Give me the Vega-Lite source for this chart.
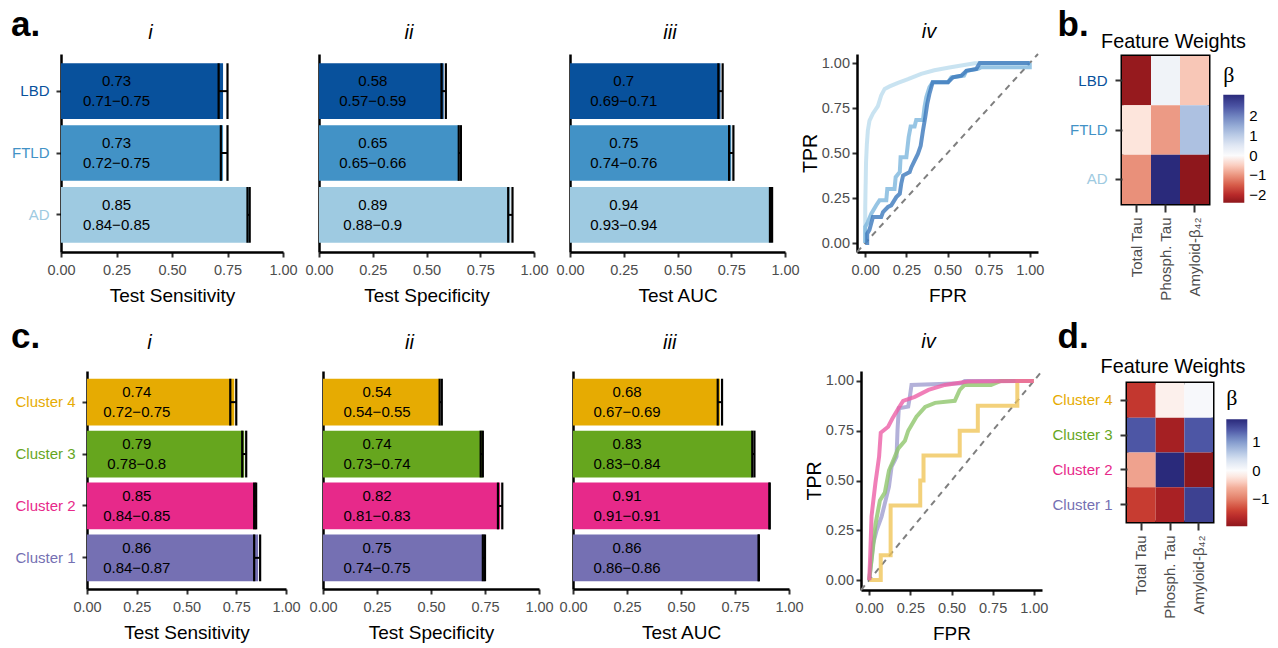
{
  "$schema": "https://vega.github.io/schema/vega-lite/v6.json",
  "background": "white",
  "padding": {"left": 10, "top": 8, "right": 5, "bottom": 1},
  "datasets": {
    "bars_a": [
      {"metric": "sens", "cat": "LBD", "mean": 0.73, "lo": 0.71, "hi": 0.75, "label": "0.73\n0.71−0.75"},
      {"metric": "sens", "cat": "FTLD", "mean": 0.73, "lo": 0.72, "hi": 0.75, "label": "0.73\n0.72−0.75"},
      {"metric": "sens", "cat": "AD", "mean": 0.85, "lo": 0.84, "hi": 0.85, "label": "0.85\n0.84−0.85"},
      {"metric": "spec", "cat": "LBD", "mean": 0.58, "lo": 0.57, "hi": 0.59, "label": "0.58\n0.57−0.59"},
      {"metric": "spec", "cat": "FTLD", "mean": 0.65, "lo": 0.65, "hi": 0.66, "label": "0.65\n0.65−0.66"},
      {"metric": "spec", "cat": "AD", "mean": 0.89, "lo": 0.88, "hi": 0.9, "label": "0.89\n0.88−0.9"},
      {"metric": "auc", "cat": "LBD", "mean": 0.7, "lo": 0.69, "hi": 0.71, "label": "0.7\n0.69−0.71"},
      {"metric": "auc", "cat": "FTLD", "mean": 0.75, "lo": 0.74, "hi": 0.76, "label": "0.75\n0.74−0.76"},
      {"metric": "auc", "cat": "AD", "mean": 0.94, "lo": 0.93, "hi": 0.94, "label": "0.94\n0.93−0.94"}
    ],
    "bars_c": [
      {"metric": "sens", "cat": "Cluster 4", "mean": 0.74, "lo": 0.72, "hi": 0.75, "label": "0.74\n0.72−0.75"},
      {"metric": "sens", "cat": "Cluster 3", "mean": 0.79, "lo": 0.78, "hi": 0.8, "label": "0.79\n0.78−0.8"},
      {"metric": "sens", "cat": "Cluster 2", "mean": 0.85, "lo": 0.84, "hi": 0.85, "label": "0.85\n0.84−0.85"},
      {"metric": "sens", "cat": "Cluster 1", "mean": 0.86, "lo": 0.84, "hi": 0.87, "label": "0.86\n0.84−0.87"},
      {"metric": "spec", "cat": "Cluster 4", "mean": 0.54, "lo": 0.54, "hi": 0.55, "label": "0.54\n0.54−0.55"},
      {"metric": "spec", "cat": "Cluster 3", "mean": 0.74, "lo": 0.73, "hi": 0.74, "label": "0.74\n0.73−0.74"},
      {"metric": "spec", "cat": "Cluster 2", "mean": 0.82, "lo": 0.81, "hi": 0.83, "label": "0.82\n0.81−0.83"},
      {"metric": "spec", "cat": "Cluster 1", "mean": 0.75, "lo": 0.74, "hi": 0.75, "label": "0.75\n0.74−0.75"},
      {"metric": "auc", "cat": "Cluster 4", "mean": 0.68, "lo": 0.67, "hi": 0.69, "label": "0.68\n0.67−0.69"},
      {"metric": "auc", "cat": "Cluster 3", "mean": 0.83, "lo": 0.83, "hi": 0.84, "label": "0.83\n0.83−0.84"},
      {"metric": "auc", "cat": "Cluster 2", "mean": 0.91, "lo": 0.91, "hi": 0.91, "label": "0.91\n0.91−0.91"},
      {"metric": "auc", "cat": "Cluster 1", "mean": 0.86, "lo": 0.86, "hi": 0.86, "label": "0.86\n0.86−0.86"}
    ],
    "roc_a": [
      {"grp": "AD", "fpr": 0, "tpr": 0}, {"grp": "AD", "fpr": 0, "tpr": 0.2}, {"grp": "AD", "fpr": 0.005, "tpr": 0.45}, {"grp": "AD", "fpr": 0.01, "tpr": 0.55}, {"grp": "AD", "fpr": 0.016, "tpr": 0.625}, {"grp": "AD", "fpr": 0.026, "tpr": 0.68}, {"grp": "AD", "fpr": 0.047, "tpr": 0.72}, {"grp": "AD", "fpr": 0.077, "tpr": 0.76}, {"grp": "AD", "fpr": 0.097, "tpr": 0.82}, {"grp": "AD", "fpr": 0.118, "tpr": 0.856}, {"grp": "AD", "fpr": 0.148, "tpr": 0.87}, {"grp": "AD", "fpr": 0.199, "tpr": 0.89}, {"grp": "AD", "fpr": 0.26, "tpr": 0.91}, {"grp": "AD", "fpr": 0.34, "tpr": 0.94}, {"grp": "AD", "fpr": 0.42, "tpr": 0.96}, {"grp": "AD", "fpr": 0.52, "tpr": 0.976}, {"grp": "AD", "fpr": 0.665, "tpr": 0.998}, {"grp": "AD", "fpr": 1, "tpr": 1},
      {"grp": "FTLD", "fpr": 0, "tpr": 0}, {"grp": "FTLD", "fpr": 0, "tpr": 0.09}, {"grp": "FTLD", "fpr": 0.016, "tpr": 0.116}, {"grp": "FTLD", "fpr": 0.037, "tpr": 0.163}, {"grp": "FTLD", "fpr": 0.067, "tpr": 0.21}, {"grp": "FTLD", "fpr": 0.087, "tpr": 0.237}, {"grp": "FTLD", "fpr": 0.128, "tpr": 0.237}, {"grp": "FTLD", "fpr": 0.134, "tpr": 0.3}, {"grp": "FTLD", "fpr": 0.178, "tpr": 0.3}, {"grp": "FTLD", "fpr": 0.185, "tpr": 0.366}, {"grp": "FTLD", "fpr": 0.21, "tpr": 0.394}, {"grp": "FTLD", "fpr": 0.215, "tpr": 0.477}, {"grp": "FTLD", "fpr": 0.25, "tpr": 0.477}, {"grp": "FTLD", "fpr": 0.264, "tpr": 0.588}, {"grp": "FTLD", "fpr": 0.276, "tpr": 0.647}, {"grp": "FTLD", "fpr": 0.3, "tpr": 0.647}, {"grp": "FTLD", "fpr": 0.31, "tpr": 0.684}, {"grp": "FTLD", "fpr": 0.351, "tpr": 0.684}, {"grp": "FTLD", "fpr": 0.36, "tpr": 0.754}, {"grp": "FTLD", "fpr": 0.371, "tpr": 0.81}, {"grp": "FTLD", "fpr": 0.39, "tpr": 0.865}, {"grp": "FTLD", "fpr": 0.41, "tpr": 0.893}, {"grp": "FTLD", "fpr": 0.503, "tpr": 0.893}, {"grp": "FTLD", "fpr": 0.523, "tpr": 0.92}, {"grp": "FTLD", "fpr": 0.6, "tpr": 0.93}, {"grp": "FTLD", "fpr": 0.615, "tpr": 0.957}, {"grp": "FTLD", "fpr": 0.686, "tpr": 0.967}, {"grp": "FTLD", "fpr": 0.706, "tpr": 0.976}, {"grp": "FTLD", "fpr": 1, "tpr": 0.976}, {"grp": "FTLD", "fpr": 1, "tpr": 1},
      {"grp": "LBD", "fpr": 0, "tpr": 0}, {"grp": "LBD", "fpr": 0.012, "tpr": 0}, {"grp": "LBD", "fpr": 0.012, "tpr": 0.052}, {"grp": "LBD", "fpr": 0.026, "tpr": 0.074}, {"grp": "LBD", "fpr": 0.047, "tpr": 0.144}, {"grp": "LBD", "fpr": 0.097, "tpr": 0.144}, {"grp": "LBD", "fpr": 0.108, "tpr": 0.172}, {"grp": "LBD", "fpr": 0.138, "tpr": 0.2}, {"grp": "LBD", "fpr": 0.158, "tpr": 0.209}, {"grp": "LBD", "fpr": 0.189, "tpr": 0.255}, {"grp": "LBD", "fpr": 0.21, "tpr": 0.274}, {"grp": "LBD", "fpr": 0.219, "tpr": 0.33}, {"grp": "LBD", "fpr": 0.23, "tpr": 0.375}, {"grp": "LBD", "fpr": 0.27, "tpr": 0.394}, {"grp": "LBD", "fpr": 0.28, "tpr": 0.42}, {"grp": "LBD", "fpr": 0.3, "tpr": 0.458}, {"grp": "LBD", "fpr": 0.32, "tpr": 0.495}, {"grp": "LBD", "fpr": 0.337, "tpr": 0.54}, {"grp": "LBD", "fpr": 0.351, "tpr": 0.625}, {"grp": "LBD", "fpr": 0.365, "tpr": 0.7}, {"grp": "LBD", "fpr": 0.377, "tpr": 0.773}, {"grp": "LBD", "fpr": 0.39, "tpr": 0.828}, {"grp": "LBD", "fpr": 0.41, "tpr": 0.893}, {"grp": "LBD", "fpr": 0.503, "tpr": 0.893}, {"grp": "LBD", "fpr": 0.533, "tpr": 0.92}, {"grp": "LBD", "fpr": 0.584, "tpr": 0.93}, {"grp": "LBD", "fpr": 0.615, "tpr": 0.957}, {"grp": "LBD", "fpr": 0.675, "tpr": 0.967}, {"grp": "LBD", "fpr": 0.696, "tpr": 1}, {"grp": "LBD", "fpr": 1, "tpr": 1}
    ],
    "roc_c": [
      {"grp": "Cluster 1", "fpr": 0, "tpr": 0}, {"grp": "Cluster 1", "fpr": 0.024, "tpr": 0.184}, {"grp": "Cluster 1", "fpr": 0.045, "tpr": 0.25}, {"grp": "Cluster 1", "fpr": 0.075, "tpr": 0.318}, {"grp": "Cluster 1", "fpr": 0.095, "tpr": 0.385}, {"grp": "Cluster 1", "fpr": 0.12, "tpr": 0.469}, {"grp": "Cluster 1", "fpr": 0.136, "tpr": 0.57}, {"grp": "Cluster 1", "fpr": 0.156, "tpr": 0.603}, {"grp": "Cluster 1", "fpr": 0.166, "tpr": 0.62}, {"grp": "Cluster 1", "fpr": 0.172, "tpr": 0.754}, {"grp": "Cluster 1", "fpr": 0.18, "tpr": 0.863}, {"grp": "Cluster 1", "fpr": 0.237, "tpr": 0.871}, {"grp": "Cluster 1", "fpr": 0.247, "tpr": 0.921}, {"grp": "Cluster 1", "fpr": 0.257, "tpr": 0.98}, {"grp": "Cluster 1", "fpr": 0.56, "tpr": 0.988}, {"grp": "Cluster 1", "fpr": 0.58, "tpr": 1}, {"grp": "Cluster 1", "fpr": 1, "tpr": 1},
      {"grp": "Cluster 3", "fpr": 0, "tpr": 0}, {"grp": "Cluster 3", "fpr": 0.024, "tpr": 0.17}, {"grp": "Cluster 3", "fpr": 0.038, "tpr": 0.28}, {"grp": "Cluster 3", "fpr": 0.065, "tpr": 0.4}, {"grp": "Cluster 3", "fpr": 0.095, "tpr": 0.44}, {"grp": "Cluster 3", "fpr": 0.12, "tpr": 0.55}, {"grp": "Cluster 3", "fpr": 0.146, "tpr": 0.6}, {"grp": "Cluster 3", "fpr": 0.176, "tpr": 0.66}, {"grp": "Cluster 3", "fpr": 0.217, "tpr": 0.7}, {"grp": "Cluster 3", "fpr": 0.237, "tpr": 0.75}, {"grp": "Cluster 3", "fpr": 0.287, "tpr": 0.82}, {"grp": "Cluster 3", "fpr": 0.34, "tpr": 0.87}, {"grp": "Cluster 3", "fpr": 0.4, "tpr": 0.89}, {"grp": "Cluster 3", "fpr": 0.52, "tpr": 0.9}, {"grp": "Cluster 3", "fpr": 0.55, "tpr": 0.955}, {"grp": "Cluster 3", "fpr": 0.58, "tpr": 0.98}, {"grp": "Cluster 3", "fpr": 0.74, "tpr": 0.98}, {"grp": "Cluster 3", "fpr": 0.8, "tpr": 1}, {"grp": "Cluster 3", "fpr": 1, "tpr": 1},
      {"grp": "Cluster 4", "fpr": 0, "tpr": 0}, {"grp": "Cluster 4", "fpr": 0.07, "tpr": 0}, {"grp": "Cluster 4", "fpr": 0.07, "tpr": 0.125}, {"grp": "Cluster 4", "fpr": 0.13, "tpr": 0.125}, {"grp": "Cluster 4", "fpr": 0.13, "tpr": 0.375}, {"grp": "Cluster 4", "fpr": 0.31, "tpr": 0.375}, {"grp": "Cluster 4", "fpr": 0.31, "tpr": 0.5}, {"grp": "Cluster 4", "fpr": 0.33, "tpr": 0.5}, {"grp": "Cluster 4", "fpr": 0.33, "tpr": 0.625}, {"grp": "Cluster 4", "fpr": 0.55, "tpr": 0.625}, {"grp": "Cluster 4", "fpr": 0.55, "tpr": 0.75}, {"grp": "Cluster 4", "fpr": 0.66, "tpr": 0.75}, {"grp": "Cluster 4", "fpr": 0.66, "tpr": 0.875}, {"grp": "Cluster 4", "fpr": 0.9, "tpr": 0.875}, {"grp": "Cluster 4", "fpr": 0.9, "tpr": 1}, {"grp": "Cluster 4", "fpr": 1, "tpr": 1},
      {"grp": "Cluster 2", "fpr": 0, "tpr": 0}, {"grp": "Cluster 2", "fpr": 0.005, "tpr": 0.1}, {"grp": "Cluster 2", "fpr": 0.014, "tpr": 0.32}, {"grp": "Cluster 2", "fpr": 0.025, "tpr": 0.4}, {"grp": "Cluster 2", "fpr": 0.038, "tpr": 0.49}, {"grp": "Cluster 2", "fpr": 0.05, "tpr": 0.56}, {"grp": "Cluster 2", "fpr": 0.06, "tpr": 0.62}, {"grp": "Cluster 2", "fpr": 0.07, "tpr": 0.74}, {"grp": "Cluster 2", "fpr": 0.115, "tpr": 0.77}, {"grp": "Cluster 2", "fpr": 0.14, "tpr": 0.81}, {"grp": "Cluster 2", "fpr": 0.176, "tpr": 0.86}, {"grp": "Cluster 2", "fpr": 0.206, "tpr": 0.9}, {"grp": "Cluster 2", "fpr": 0.277, "tpr": 0.92}, {"grp": "Cluster 2", "fpr": 0.36, "tpr": 0.955}, {"grp": "Cluster 2", "fpr": 0.46, "tpr": 0.98}, {"grp": "Cluster 2", "fpr": 0.6, "tpr": 0.997}, {"grp": "Cluster 2", "fpr": 1, "tpr": 1}
    ],
    "heat_b": [
      {"grp": "LBD", "feat": "Total Tau", "w": -2.33}, {"grp": "LBD", "feat": "Phosph. Tau", "w": 0.22}, {"grp": "LBD", "feat": "Amyloid-β₄₂", "w": -0.55},
      {"grp": "FTLD", "feat": "Total Tau", "w": -0.3}, {"grp": "FTLD", "feat": "Phosph. Tau", "w": -0.95}, {"grp": "FTLD", "feat": "Amyloid-β₄₂", "w": 1.2},
      {"grp": "AD", "feat": "Total Tau", "w": -1.05}, {"grp": "AD", "feat": "Phosph. Tau", "w": 3.1}, {"grp": "AD", "feat": "Amyloid-β₄₂", "w": -2.4}
    ],
    "heat_d": [
      {"grp": "Cluster 4", "feat": "Total Tau", "w": -1.5}, {"grp": "Cluster 4", "feat": "Phosph. Tau", "w": -0.12}, {"grp": "Cluster 4", "feat": "Amyloid-β₄₂", "w": 0.05},
      {"grp": "Cluster 3", "feat": "Total Tau", "w": 1.43}, {"grp": "Cluster 3", "feat": "Phosph. Tau", "w": -1.78}, {"grp": "Cluster 3", "feat": "Amyloid-β₄₂", "w": 1.43},
      {"grp": "Cluster 2", "feat": "Total Tau", "w": -0.7}, {"grp": "Cluster 2", "feat": "Phosph. Tau", "w": 1.79}, {"grp": "Cluster 2", "feat": "Amyloid-β₄₂", "w": -1.95},
      {"grp": "Cluster 1", "feat": "Total Tau", "w": -1.45}, {"grp": "Cluster 1", "feat": "Phosph. Tau", "w": -1.75}, {"grp": "Cluster 1", "feat": "Amyloid-β₄₂", "w": 1.6}
    ],
    "blank": [{"k": 0}]
  },
  "spacing": 13,
  "vconcat": [
    {
      "title": {"text": "a.", "fontSize": 35, "fontWeight": "bold", "anchor": "start", "frame": "bounds", "baseline": "top", "offset": -35, "dx": 1},
      "spacing": 0,
      "hconcat": [
        {"width": 1, "height": 1, "data": {"name": "blank"}, "mark": {"type": "point", "size": 0, "opacity": 0}},
        {
          "width": 222, "height": 198,
          "title": {"text": "i", "fontStyle": "italic", "fontSize": 20, "fontWeight": "normal", "anchor": "middle", "frame": "group", "baseline": "top", "offset": 11.3, "dx": -21.5},
          "data": {"name": "bars_a"},
          "transform": [{"filter": "datum.metric === 'sens'"}],
          "encoding": {"y": {"field": "cat", "type": "nominal", "sort": ["LBD", "FTLD", "AD"], "scale": {"paddingInner": 0.1, "paddingOuter": 0.15}, "axis": {"title": null, "labelFontSize": 15, "labelPadding": 7, "minExtent": 50, "labelColor": {"condition": [{"test": "datum.value === 'LBD'", "value": "#08519c"}, {"test": "datum.value === 'FTLD'", "value": "#4292c6"}], "value": "#9ecae1"}}}},
          "layer": [
            {"mark": {"type": "bar"}, "encoding": {"x": {"field": "mean", "type": "quantitative", "scale": {"domain": [0, 1], "nice": false}, "axis": {"title": "Test Sensitivity", "values": [0, 0.25, 0.5, 0.75, 1], "format": ".2f"}}, "color": {"field": "cat", "type": "nominal", "scale": {"domain": ["LBD", "FTLD", "AD"], "range": ["#08519c", "#4292c6", "#9ecae1"]}, "legend": null}}},
            {"mark": {"type": "rule", "color": "black", "strokeWidth": 2}, "encoding": {"x": {"field": "lo", "type": "quantitative"}, "x2": {"field": "hi"}}},
            {"mark": {"type": "tick", "color": "black", "thickness": 2.2, "size": 55.7, "opacity": 1}, "encoding": {"x": {"field": "lo", "type": "quantitative"}}},
            {"mark": {"type": "tick", "color": "black", "thickness": 2.2, "size": 55.7, "opacity": 1}, "encoding": {"x": {"field": "hi", "type": "quantitative"}}},
            {"mark": {"type": "text", "fontSize": 15, "lineBreak": "\n", "lineHeight": 20.5, "color": "black", "baseline": "middle", "dy": -10.25}, "encoding": {"x": {"datum": 0.25, "type": "quantitative"}, "text": {"field": "label"}}}
          ]
        },
        {
          "width": 215, "height": 198,
          "title": {"text": "ii", "fontStyle": "italic", "fontSize": 20, "fontWeight": "normal", "anchor": "middle", "frame": "group", "baseline": "top", "offset": 11.3, "dx": -17.5},
          "data": {"name": "bars_a"},
          "transform": [{"filter": "datum.metric === 'spec'"}],
          "encoding": {"y": {"field": "cat", "type": "nominal", "sort": ["LBD", "FTLD", "AD"], "scale": {"paddingInner": 0.1, "paddingOuter": 0.15}, "axis": {"title": null, "labels": false, "ticks": false, "minExtent": 21}}},
          "layer": [
            {"mark": {"type": "bar"}, "encoding": {"x": {"field": "mean", "type": "quantitative", "scale": {"domain": [0, 1], "nice": false}, "axis": {"title": "Test Specificity", "values": [0, 0.25, 0.5, 0.75, 1], "format": ".2f"}}, "color": {"field": "cat", "type": "nominal", "scale": {"domain": ["LBD", "FTLD", "AD"], "range": ["#08519c", "#4292c6", "#9ecae1"]}, "legend": null}}},
            {"mark": {"type": "rule", "color": "black", "strokeWidth": 2}, "encoding": {"x": {"field": "lo", "type": "quantitative"}, "x2": {"field": "hi"}}},
            {"mark": {"type": "tick", "color": "black", "thickness": 2.2, "size": 55.7, "opacity": 1}, "encoding": {"x": {"field": "lo", "type": "quantitative"}}},
            {"mark": {"type": "tick", "color": "black", "thickness": 2.2, "size": 55.7, "opacity": 1}, "encoding": {"x": {"field": "hi", "type": "quantitative"}}},
            {"mark": {"type": "text", "fontSize": 15, "lineBreak": "\n", "lineHeight": 20.5, "color": "black", "baseline": "middle", "dy": -10.25}, "encoding": {"x": {"datum": 0.25, "type": "quantitative"}, "text": {"field": "label"}}}
          ]
        },
        {
          "width": 215, "height": 198,
          "title": {"text": "iii", "fontStyle": "italic", "fontSize": 20, "fontWeight": "normal", "anchor": "middle", "frame": "group", "baseline": "top", "offset": 11.3, "dx": -7.5},
          "data": {"name": "bars_a"},
          "transform": [{"filter": "datum.metric === 'auc'"}],
          "encoding": {"y": {"field": "cat", "type": "nominal", "sort": ["LBD", "FTLD", "AD"], "scale": {"paddingInner": 0.1, "paddingOuter": 0.15}, "axis": {"title": null, "labels": false, "ticks": false, "minExtent": 21}}},
          "layer": [
            {"mark": {"type": "bar"}, "encoding": {"x": {"field": "mean", "type": "quantitative", "scale": {"domain": [0, 1], "nice": false}, "axis": {"title": "Test AUC", "values": [0, 0.25, 0.5, 0.75, 1], "format": ".2f"}}, "color": {"field": "cat", "type": "nominal", "scale": {"domain": ["LBD", "FTLD", "AD"], "range": ["#08519c", "#4292c6", "#9ecae1"]}, "legend": null}}},
            {"mark": {"type": "rule", "color": "black", "strokeWidth": 2}, "encoding": {"x": {"field": "lo", "type": "quantitative"}, "x2": {"field": "hi"}}},
            {"mark": {"type": "tick", "color": "black", "thickness": 2.2, "size": 55.7, "opacity": 1}, "encoding": {"x": {"field": "lo", "type": "quantitative"}}},
            {"mark": {"type": "tick", "color": "black", "thickness": 2.2, "size": 55.7, "opacity": 1}, "encoding": {"x": {"field": "hi", "type": "quantitative"}}},
            {"mark": {"type": "text", "fontSize": 15, "lineBreak": "\n", "lineHeight": 20.5, "color": "black", "baseline": "middle", "dy": -10.25}, "encoding": {"x": {"datum": 0.25, "type": "quantitative"}, "text": {"field": "label"}}}
          ]
        },
        {
          "width": 181, "height": 198,
          "title": {"text": "iv", "fontStyle": "italic", "fontSize": 20, "fontWeight": "normal", "anchor": "middle", "frame": "group", "baseline": "top", "offset": 11.3, "dx": -18.5},
          "layer": [
            {"data": {"name": "blank"}, "mark": {"type": "rule", "color": "#7f7f7f", "strokeWidth": 2, "strokeDash": [6, 5]}, "encoding": {"x": {"datum": -0.05, "type": "quantitative", "scale": {"domain": [-0.05, 1.05], "nice": false}, "axis": {"title": "FPR", "values": [0, 0.25, 0.5, 0.75, 1], "format": ".2f"}}, "y": {"datum": -0.05, "type": "quantitative", "scale": {"domain": [-0.05, 1.05], "nice": false}, "axis": {"title": "TPR", "values": [0, 0.25, 0.5, 0.75, 1], "format": ".2f", "labelPadding": 2.5, "titlePadding": 1, "titleFontSize": 19.5}}, "x2": {"datum": 1.05}, "y2": {"datum": 1.05}}},
            {"data": {"name": "roc_a"}, "mark": {"type": "line", "strokeWidth": 4, "opacity": 0.8}, "encoding": {"x": {"field": "fpr", "type": "quantitative"}, "y": {"field": "tpr", "type": "quantitative"}, "color": {"field": "grp", "type": "nominal", "scale": {"domain": ["AD", "FTLD", "LBD"], "range": ["#bcdcee", "#7db7dd", "#3b78bb"]}, "legend": null}, "order": {"value": null}}}
          ]
        },
        {
          "title": {"text": "b.", "fontSize": 35, "fontWeight": "bold", "anchor": "start", "frame": "bounds", "baseline": "top", "offset": -12.5, "dx": 13},
          "spacing": -25,
          "vconcat": [
            {"width": 1, "height": 1, "data": {"name": "blank"}, "mark": {"type": "point", "size": 0, "opacity": 0}},
            {
              "width": 87, "height": 148,
              "view": {"stroke": "black", "strokeWidth": 3},
              "title": {"text": "Feature Weights", "fontSize": 19.8, "fontWeight": "normal", "anchor": "middle", "frame": "group", "baseline": "top", "offset": 4, "dx": 8},
              "data": {"name": "heat_b"},
              "mark": {"type": "rect"},
              "encoding": {
                "x": {"field": "feat", "type": "nominal", "sort": ["Total Tau", "Phosph. Tau", "Amyloid-β₄₂"], "axis": {"title": null, "labelAngle": -90, "domain": false, "tickSize": 8, "labelPadding": 5, "labelFontSize": 15}},
                "y": {"field": "grp", "type": "nominal", "sort": ["LBD", "FTLD", "AD"], "axis": {"title": null, "domain": false, "tickSize": 7, "labelPadding": 8, "labelFontSize": 15, "minExtent": 76, "labelColor": {"condition": [{"test": "datum.value === 'LBD'", "value": "#08519c"}, {"test": "datum.value === 'FTLD'", "value": "#4292c6"}], "value": "#9ecae1"}}},
                "color": {"field": "w", "type": "quantitative", "scale": {"domain": [-2.4, -2.04, -1.68, -1.2, -0.72, -0.36, 0, 0.62, 1.24, 1.86, 2.48, 3.1], "range": ["#8e171c", "#b52628", "#cf4535", "#e4826b", "#f4b09c", "#fde0d6", "#fbfbfc", "#dbe4f2", "#aabfe0", "#7a92c8", "#4d56a5", "#2a2a7b"], "interpolate": "rgb"},
                  "legend": {"title": "β", "orient": "none", "legendX": 101.3, "legendY": 11.4, "padding": 0, "direction": "vertical", "gradientLength": 108, "gradientThickness": 21, "gradientStrokeWidth": 0, "values": [-2, -1, 0, 1, 2], "titleFont": "Liberation Serif", "titleFontSize": 22, "titleFontWeight": "normal", "titleColor": "black", "titlePadding": 7.3, "labelFontSize": 15, "labelColor": "black", "labelOffset": 5}}
              }
            }
          ]
        }
      ]
    },
    {
      "title": {"text": "c.", "fontSize": 35, "fontWeight": "bold", "anchor": "start", "frame": "bounds", "baseline": "top", "offset": -35, "dx": 1},
      "spacing": 0,
      "hconcat": [
        {"width": 1, "height": 1, "data": {"name": "blank"}, "mark": {"type": "point", "size": 0, "opacity": 0}},
        {
          "width": 199, "height": 218,
          "title": {"text": "i", "fontStyle": "italic", "fontSize": 20, "fontWeight": "normal", "anchor": "middle", "frame": "group", "baseline": "top", "offset": 18, "dx": -37},
          "data": {"name": "bars_c"},
          "transform": [{"filter": "datum.metric === 'sens'"}],
          "encoding": {"y": {"field": "cat", "type": "nominal", "sort": ["Cluster 4", "Cluster 3", "Cluster 2", "Cluster 1"], "scale": {"paddingInner": 0.1, "paddingOuter": 0.15}, "axis": {"title": null, "labelFontSize": 15, "labelPadding": 7, "minExtent": 76, "labelColor": {"condition": [{"test": "datum.value === 'Cluster 4'", "value": "#e6ab02"}, {"test": "datum.value === 'Cluster 3'", "value": "#66a61e"}, {"test": "datum.value === 'Cluster 2'", "value": "#e7298a"}], "value": "#7570b3"}}}},
          "layer": [
            {"mark": {"type": "bar"}, "encoding": {"x": {"field": "mean", "type": "quantitative", "scale": {"domain": [0, 1], "nice": false}, "axis": {"title": "Test Sensitivity", "values": [0, 0.25, 0.5, 0.75, 1], "format": ".2f"}}, "color": {"field": "cat", "type": "nominal", "scale": {"domain": ["Cluster 4", "Cluster 3", "Cluster 2", "Cluster 1"], "range": ["#e6ab02", "#66a61e", "#e7298a", "#7570b3"]}, "legend": null}}},
            {"mark": {"type": "rule", "color": "black", "strokeWidth": 2}, "encoding": {"x": {"field": "lo", "type": "quantitative"}, "x2": {"field": "hi"}}},
            {"mark": {"type": "tick", "color": "black", "thickness": 2.2, "size": 46.8, "opacity": 1}, "encoding": {"x": {"field": "lo", "type": "quantitative"}}},
            {"mark": {"type": "tick", "color": "black", "thickness": 2.2, "size": 46.8, "opacity": 1}, "encoding": {"x": {"field": "hi", "type": "quantitative"}}},
            {"mark": {"type": "text", "fontSize": 15, "lineBreak": "\n", "lineHeight": 20.5, "color": "black", "baseline": "middle", "dy": -10.25}, "encoding": {"x": {"datum": 0.25, "type": "quantitative"}, "text": {"field": "label"}}}
          ]
        },
        {
          "width": 216, "height": 218,
          "title": {"text": "ii", "fontStyle": "italic", "fontSize": 20, "fontWeight": "normal", "anchor": "middle", "frame": "group", "baseline": "top", "offset": 18, "dx": -21.5},
          "data": {"name": "bars_c"},
          "transform": [{"filter": "datum.metric === 'spec'"}],
          "encoding": {"y": {"field": "cat", "type": "nominal", "sort": ["Cluster 4", "Cluster 3", "Cluster 2", "Cluster 1"], "scale": {"paddingInner": 0.1, "paddingOuter": 0.15}, "axis": {"title": null, "labels": false, "ticks": false, "minExtent": 22}}},
          "layer": [
            {"mark": {"type": "bar"}, "encoding": {"x": {"field": "mean", "type": "quantitative", "scale": {"domain": [0, 1], "nice": false}, "axis": {"title": "Test Specificity", "values": [0, 0.25, 0.5, 0.75, 1], "format": ".2f"}}, "color": {"field": "cat", "type": "nominal", "scale": {"domain": ["Cluster 4", "Cluster 3", "Cluster 2", "Cluster 1"], "range": ["#e6ab02", "#66a61e", "#e7298a", "#7570b3"]}, "legend": null}}},
            {"mark": {"type": "rule", "color": "black", "strokeWidth": 2}, "encoding": {"x": {"field": "lo", "type": "quantitative"}, "x2": {"field": "hi"}}},
            {"mark": {"type": "tick", "color": "black", "thickness": 2.2, "size": 46.8, "opacity": 1}, "encoding": {"x": {"field": "lo", "type": "quantitative"}}},
            {"mark": {"type": "tick", "color": "black", "thickness": 2.2, "size": 46.8, "opacity": 1}, "encoding": {"x": {"field": "hi", "type": "quantitative"}}},
            {"mark": {"type": "text", "fontSize": 15, "lineBreak": "\n", "lineHeight": 20.5, "color": "black", "baseline": "middle", "dy": -10.25}, "encoding": {"x": {"datum": 0.25, "type": "quantitative"}, "text": {"field": "label"}}}
          ]
        },
        {
          "width": 216, "height": 218,
          "title": {"text": "iii", "fontStyle": "italic", "fontSize": 20, "fontWeight": "normal", "anchor": "middle", "frame": "group", "baseline": "top", "offset": 18, "dx": -11.3},
          "data": {"name": "bars_c"},
          "transform": [{"filter": "datum.metric === 'auc'"}],
          "encoding": {"y": {"field": "cat", "type": "nominal", "sort": ["Cluster 4", "Cluster 3", "Cluster 2", "Cluster 1"], "scale": {"paddingInner": 0.1, "paddingOuter": 0.15}, "axis": {"title": null, "labels": false, "ticks": false, "minExtent": 19}}},
          "layer": [
            {"mark": {"type": "bar"}, "encoding": {"x": {"field": "mean", "type": "quantitative", "scale": {"domain": [0, 1], "nice": false}, "axis": {"title": "Test AUC", "values": [0, 0.25, 0.5, 0.75, 1], "format": ".2f"}}, "color": {"field": "cat", "type": "nominal", "scale": {"domain": ["Cluster 4", "Cluster 3", "Cluster 2", "Cluster 1"], "range": ["#e6ab02", "#66a61e", "#e7298a", "#7570b3"]}, "legend": null}}},
            {"mark": {"type": "rule", "color": "black", "strokeWidth": 2}, "encoding": {"x": {"field": "lo", "type": "quantitative"}, "x2": {"field": "hi"}}},
            {"mark": {"type": "tick", "color": "black", "thickness": 2.2, "size": 46.8, "opacity": 1}, "encoding": {"x": {"field": "lo", "type": "quantitative"}}},
            {"mark": {"type": "tick", "color": "black", "thickness": 2.2, "size": 46.8, "opacity": 1}, "encoding": {"x": {"field": "hi", "type": "quantitative"}}},
            {"mark": {"type": "text", "fontSize": 15, "lineBreak": "\n", "lineHeight": 20.5, "color": "black", "baseline": "middle", "dy": -10.25}, "encoding": {"x": {"datum": 0.25, "type": "quantitative"}, "text": {"field": "label"}}}
          ]
        },
        {
          "width": 181, "height": 219,
          "title": {"text": "iv", "fontStyle": "italic", "fontSize": 20, "fontWeight": "normal", "anchor": "middle", "frame": "group", "baseline": "top", "offset": 18, "dx": -23},
          "layer": [
            {"data": {"name": "blank"}, "mark": {"type": "rule", "color": "#7f7f7f", "strokeWidth": 2, "strokeDash": [6, 5]}, "encoding": {"x": {"datum": -0.05, "type": "quantitative", "scale": {"domain": [-0.05, 1.05], "nice": false}, "axis": {"title": "FPR", "values": [0, 0.25, 0.5, 0.75, 1], "format": ".2f"}}, "y": {"datum": -0.05, "type": "quantitative", "scale": {"domain": [-0.05, 1.05], "nice": false}, "axis": {"title": "TPR", "values": [0, 0.25, 0.5, 0.75, 1], "format": ".2f", "labelPadding": 2.5, "titlePadding": 1, "titleFontSize": 19.5}}, "x2": {"datum": 1.05}, "y2": {"datum": 1.05}}},
            {"data": {"name": "roc_c"}, "mark": {"type": "line", "strokeWidth": 4, "opacity": 0.8}, "encoding": {"x": {"field": "fpr", "type": "quantitative"}, "y": {"field": "tpr", "type": "quantitative"}, "color": {"field": "grp", "type": "nominal", "scale": {"domain": ["Cluster 4", "Cluster 3", "Cluster 1", "Cluster 2"], "range": ["#f0c55a", "#8ec56b", "#a09dd0", "#ec5fa6"]}, "legend": null}, "order": {"value": null}}}
          ]
        },
        {
          "title": {"text": "d.", "fontSize": 35, "fontWeight": "bold", "anchor": "start", "frame": "bounds", "baseline": "top", "offset": 0.5, "dx": 9},
          "spacing": -17,
          "vconcat": [
            {"width": 1, "height": 1, "data": {"name": "blank"}, "mark": {"type": "point", "size": 0, "opacity": 0}},
            {
              "width": 86, "height": 139,
              "view": {"stroke": "black", "strokeWidth": 3},
              "title": {"text": "Feature Weights", "fontSize": 19.8, "fontWeight": "normal", "anchor": "middle", "frame": "group", "baseline": "top", "offset": 6.6, "dx": 3},
              "data": {"name": "heat_d"},
              "mark": {"type": "rect"},
              "encoding": {
                "x": {"field": "feat", "type": "nominal", "sort": ["Total Tau", "Phosph. Tau", "Amyloid-β₄₂"], "axis": {"title": null, "labelAngle": -90, "domain": false, "tickSize": 8, "labelPadding": 5, "labelFontSize": 15}},
                "y": {"field": "grp", "type": "nominal", "sort": ["Cluster 4", "Cluster 3", "Cluster 2", "Cluster 1"], "axis": {"title": null, "domain": false, "tickSize": 7, "labelPadding": 8, "labelFontSize": 15, "minExtent": 77, "labelColor": {"condition": [{"test": "datum.value === 'Cluster 4'", "value": "#e6ab02"}, {"test": "datum.value === 'Cluster 3'", "value": "#66a61e"}, {"test": "datum.value === 'Cluster 2'", "value": "#e7298a"}], "value": "#7570b3"}}},
                "color": {"field": "w", "type": "quantitative", "scale": {"domain": [-1.95, -1.6575, -1.365, -0.975, -0.585, -0.2925, 0, 0.358, 0.716, 1.074, 1.432, 1.79], "range": ["#8e171c", "#b52628", "#cf4535", "#e4826b", "#f4b09c", "#fde0d6", "#fbfbfc", "#dbe4f2", "#aabfe0", "#7a92c8", "#4d56a5", "#2a2a7b"], "interpolate": "rgb"},
                  "legend": {"title": "β", "orient": "none", "legendX": 99.3, "legendY": 17.3, "padding": 0, "direction": "vertical", "gradientLength": 107, "gradientThickness": 21, "gradientStrokeWidth": 0, "values": [-1, 0, 1], "titleFont": "Liberation Serif", "titleFontSize": 22, "titleFontWeight": "normal", "titleColor": "black", "titlePadding": 9, "labelFontSize": 15, "labelColor": "black", "labelOffset": 5}}
              }
            }
          ]
        }
      ]
    }
  ],
  "config": {
    "font": "Liberation Sans",
    "view": {"stroke": null},
    "axis": {"domainColor": "#000000", "domainWidth": 2.5, "tickColor": "#333333", "tickWidth": 2, "tickSize": 5, "labelColor": "#4d4d4d", "labelFontSize": 14.5, "labelFont": "Liberation Sans", "titleFont": "Liberation Sans", "titleFontSize": 19, "titleFontWeight": "normal", "titleColor": "#000000", "grid": false, "labelOverlap": false},
    "axisX": {"labelPadding": 6, "titlePadding": 10, "labelFlush": false},
    "axisY": {"labelPadding": 3},
    "title": {"font": "Liberation Sans", "color": "#000000"}
  }
}
